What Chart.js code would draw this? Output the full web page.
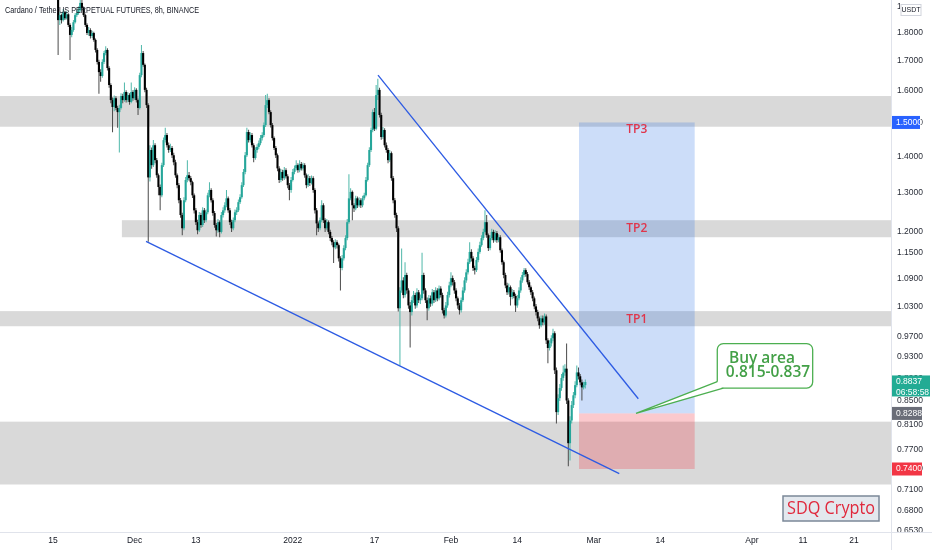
<!DOCTYPE html>
<html>
<head>
<meta charset="utf-8">
<script src="https://cdn.jsdelivr.net/npm/chart.js@4.4.1/dist/chart.umd.min.js"></script>
<style>
html,body{margin:0;padding:0;background:#fff;overflow:hidden}
#wrap{width:932px;height:550px;position:relative}
canvas{display:block}
</style>
</head>
<body>
<div id="wrap"><canvas id="c" width="932" height="550"></canvas></div>
<script>
// ---------------- DATA ----------------
// 8h candles, x measured in days after 15 Nov 2021
const firstCandleDay = 1 / 3;
const candleStepDays = 1 / 3;
const firstOpen = 1.990;

const closes = [
1.980,1.960,1.848,1.867,1.848,1.878,1.855,1.870,1.830,1.793,
1.811,1.840,1.867,1.875,1.886,1.914,1.894,1.867,1.830,1.800,
1.811,1.789,1.800,1.775,1.739,1.697,1.662,1.649,1.697,1.728,
1.739,1.676,1.619,1.570,1.548,1.576,1.545,1.532,1.545,1.583,
1.570,1.596,1.570,1.586,1.564,1.596,1.576,1.603,1.570,1.545,
1.652,1.728,1.687,1.603,1.554,1.341,1.418,1.375,1.432,1.389,
1.347,1.315,1.293,1.375,1.447,1.462,1.432,1.418,1.424,1.403,
1.383,1.347,1.320,1.280,1.242,1.209,1.280,1.334,1.347,1.339,
1.328,1.293,1.254,1.224,1.204,1.242,1.217,1.254,1.229,1.249,
1.293,1.307,1.280,1.247,1.217,1.204,1.224,1.200,1.242,1.254,
1.267,1.285,1.254,1.224,1.209,1.229,1.249,1.254,1.275,1.288,
1.320,1.356,1.403,1.471,1.447,1.462,1.432,1.395,1.418,1.427,
1.438,1.453,1.462,1.492,1.554,1.570,1.532,1.492,1.453,1.424,
1.403,1.366,1.334,1.356,1.339,1.361,1.344,1.320,1.307,1.334,
1.356,1.366,1.375,1.361,1.378,1.366,1.375,1.347,1.320,1.339,
1.326,1.339,1.307,1.254,1.221,1.209,1.229,1.267,1.229,1.209,
1.224,1.200,1.185,1.175,1.163,1.175,1.168,1.137,1.115,1.137,
1.161,1.185,1.224,1.285,1.302,1.267,1.259,1.285,1.267,1.280,
1.267,1.285,1.293,1.334,1.375,1.418,1.477,1.532,1.481,1.586,
1.603,1.523,1.456,1.477,1.432,1.418,1.389,1.409,1.339,1.280,
1.242,1.209,1.027,1.065,1.087,1.055,1.099,1.065,1.033,1.019,
1.044,1.055,1.033,1.061,1.044,1.048,1.099,1.065,1.044,1.027,
1.048,1.037,1.061,1.044,1.065,1.048,1.069,1.055,1.023,1.012,
1.033,1.055,1.076,1.092,1.083,1.065,1.048,1.033,1.023,1.044,
1.065,1.087,1.105,1.128,1.152,1.137,1.115,1.110,1.133,1.152,
1.168,1.185,1.200,1.224,1.192,1.161,1.185,1.200,1.180,1.197,
1.180,1.187,1.156,1.128,1.099,1.076,1.061,1.072,1.051,1.061,
1.053,1.033,1.048,1.065,1.087,1.099,1.110,1.101,1.083,1.072,
1.061,1.048,1.031,1.019,1.006,0.992,1.006,0.998,1.010,0.962,
0.947,0.956,0.966,0.976,0.905,0.831,0.855,0.873,0.891,0.901,
0.908,0.851,0.780,0.817,0.843,0.860,0.878,0.901,0.894,0.883,
0.874,0.878,0.8837
];

const highs = [
2.000,1.985,1.968,1.880,1.872,1.890,1.884,1.882,1.874,1.836,
1.822,1.848,1.874,1.890,1.900,1.945,1.925,1.900,1.872,1.836,
1.822,1.818,1.808,1.805,1.780,1.745,1.705,1.672,1.706,1.735,
1.752,1.745,1.682,1.625,1.578,1.585,1.582,1.552,1.555,1.592,
1.590,1.627,1.602,1.595,1.592,1.627,1.602,1.612,1.608,1.575,
1.660,1.757,1.735,1.692,1.610,1.560,1.432,1.425,1.447,1.438,
1.395,1.352,1.322,1.382,1.455,1.484,1.468,1.440,1.436,1.430,
1.410,1.390,1.352,1.326,1.286,1.248,1.288,1.342,1.389,1.356,
1.345,1.332,1.298,1.260,1.230,1.250,1.248,1.262,1.260,1.256,
1.300,1.328,1.312,1.285,1.252,1.222,1.232,1.228,1.250,1.262,
1.275,1.307,1.290,1.260,1.230,1.236,1.256,1.262,1.282,1.296,
1.328,1.364,1.412,1.484,1.478,1.470,1.468,1.438,1.426,1.435,
1.446,1.462,1.470,1.500,1.586,1.590,1.576,1.538,1.498,1.458,
1.430,1.408,1.372,1.364,1.362,1.370,1.366,1.350,1.326,1.342,
1.364,1.374,1.389,1.380,1.389,1.384,1.382,1.380,1.352,1.350,
1.345,1.346,1.344,1.312,1.260,1.226,1.236,1.280,1.272,1.234,
1.232,1.228,1.205,1.190,1.180,1.182,1.180,1.172,1.142,1.145,
1.168,1.192,1.232,1.350,1.312,1.306,1.272,1.292,1.290,1.288,
1.285,1.292,1.300,1.342,1.382,1.426,1.485,1.540,1.545,1.619,
1.640,1.610,1.530,1.486,1.482,1.440,1.424,1.418,1.414,1.345,
1.286,1.248,1.214,1.072,1.160,1.094,1.128,1.104,1.070,1.040,
1.052,1.064,1.060,1.070,1.066,1.056,1.150,1.104,1.070,1.050,
1.055,1.054,1.068,1.066,1.072,1.070,1.076,1.074,1.060,1.028,
1.040,1.062,1.084,1.105,1.098,1.088,1.070,1.052,1.038,1.050,
1.072,1.094,1.112,1.136,1.175,1.158,1.142,1.120,1.140,1.160,
1.176,1.192,1.208,1.254,1.242,1.196,1.192,1.208,1.205,1.204,
1.202,1.194,1.192,1.160,1.132,1.104,1.082,1.080,1.076,1.068,
1.066,1.058,1.055,1.072,1.094,1.106,1.115,1.114,1.106,1.088,
1.076,1.066,1.052,1.036,1.024,1.010,1.012,1.012,1.016,1.014,
0.966,0.962,0.972,0.985,0.980,0.910,0.862,0.880,0.898,0.914,
0.916,0.956,0.855,0.824,0.850,0.866,0.885,0.914,0.910,0.898,
0.888,0.884,0.888
];

const lows = [
1.962,1.945,1.721,1.830,1.835,1.843,1.848,1.850,1.822,1.704,
1.785,1.805,1.835,1.860,1.868,1.880,1.885,1.860,1.822,1.793,
1.790,1.780,1.782,1.768,1.730,1.688,1.590,1.630,1.643,1.690,
1.720,1.668,1.610,1.560,1.470,1.535,1.538,1.484,1.411,1.540,
1.560,1.565,1.562,1.563,1.555,1.560,1.568,1.570,1.562,1.523,
1.540,1.645,1.680,1.595,1.545,1.176,1.330,1.365,1.370,1.380,
1.340,1.293,1.254,1.288,1.370,1.440,1.425,1.410,1.412,1.395,
1.375,1.340,1.312,1.272,1.235,1.192,1.204,1.275,1.328,1.332,
1.320,1.286,1.246,1.217,1.194,1.200,1.210,1.212,1.222,1.224,
1.244,1.288,1.274,1.240,1.210,1.189,1.198,1.187,1.196,1.236,
1.248,1.262,1.248,1.217,1.200,1.204,1.224,1.242,1.250,1.270,
1.284,1.315,1.350,1.398,1.440,1.440,1.425,1.383,1.390,1.410,
1.420,1.432,1.446,1.456,1.486,1.545,1.525,1.485,1.446,1.418,
1.395,1.358,1.326,1.328,1.332,1.334,1.338,1.312,1.280,1.300,
1.330,1.350,1.360,1.354,1.355,1.360,1.360,1.340,1.312,1.315,
1.318,1.322,1.300,1.246,1.192,1.200,1.204,1.224,1.222,1.200,
1.204,1.194,1.178,1.168,1.126,1.158,1.160,1.130,1.065,1.110,
1.132,1.156,1.180,1.220,1.280,1.229,1.250,1.254,1.260,1.262,
1.260,1.262,1.280,1.290,1.330,1.370,1.412,1.470,1.474,1.476,
1.570,1.515,1.448,1.450,1.425,1.410,1.380,1.384,1.332,1.272,
1.235,1.200,1.020,0.914,1.060,1.048,1.050,1.058,1.026,0.948,
1.012,1.038,1.026,1.028,1.038,1.036,1.044,1.058,1.038,1.002,
1.022,1.030,1.032,1.038,1.040,1.042,1.044,1.050,1.016,1.006,
1.008,1.028,1.050,1.072,1.076,1.058,1.042,1.026,1.014,1.018,
1.040,1.060,1.082,1.100,1.124,1.130,1.108,1.100,1.106,1.128,
1.148,1.164,1.180,1.196,1.186,1.154,1.156,1.180,1.174,1.176,
1.174,1.175,1.150,1.122,1.092,1.070,1.055,1.056,1.033,1.046,
1.048,1.019,1.028,1.044,1.060,1.082,1.094,1.095,1.078,1.066,
1.055,1.042,1.025,1.012,1.000,0.985,0.988,0.992,0.993,0.955,
0.918,0.942,0.950,0.960,0.898,0.812,0.826,0.850,0.868,0.886,
0.895,0.845,0.744,0.753,0.812,0.838,0.855,0.874,0.888,0.878,
0.851,0.870,0.872
];

// axis ticks
const xTickDays   = [0, 16, 28, 47, 63, 78, 91, 106, 119, 137, 147, 157];
const xTickLabels = ['15','Dec','13','2022','17','Feb','14','Mar','14','Apr','11','21'];
const yTickValues = [1.9,1.8,1.7,1.6,1.5,1.4,1.3,1.2,1.15,1.09,1.03,0.97,0.93,0.89,0.85,0.81,0.77,0.74,0.71,0.68,0.653];

// visible range
const xMin = -10.39, xMax = 164.25;
const yMin = 0.6508, yMax = 1.9254;

// support / resistance zones
const zoneTops      = [1.583, 1.229, 1.021, 0.815];
const zoneBottoms   = [1.487, 1.187, 0.990, 0.717];
const zoneStartDays = [xMin, 13.5, xMin, xMin];

// wedge trend lines
const upperTrend = [{x: 63.70, y: 1.652}, {x: 114.72, y: 0.854}];
const lowerTrend = [{x: 18.23, y: 1.177}, {x: 110.99, y: 0.733}];

// long position
const positionStartDay = 103.1, positionEndDay = 125.77;
const targetPrice = 1.5, entryPrice = 0.8288, stopPrice = 0.74;
const tpLabels = ['TP3', 'TP2', 'TP1'];
const tpPrices = [1.477, 1.207, 1.004];

// callout "Buy area"
const calloutText = ['Buy area', '0.815-0.837'];
const calloutDays = [130.2, 148.9];
const calloutPrices = [0.9556, 0.8728];
const calloutTipDay = 114.27;

const titleText = 'Cardano / TetherUS PERPETUAL FUTURES, 8h, BINANCE';
const countdownText = '06:58:58';
const brandText = 'SDQ Crypto';

// ---------------- BUILD ----------------
const opens = closes.map((c, i) => i === 0 ? firstOpen : closes[i - 1]);
const days = closes.map((c, i) => firstCandleDay + i * candleStepDays);
const isUp = closes.map((c, i) => c >= opens[i]);
const bodyData = closes.map((c, i) => ({x: days[i], y: [opens[i], c]}));
const wickData = closes.map((c, i) => ({x: days[i], y: [lows[i], highs[i]]}));
const lastClose = closes[closes.length - 1];

const FONT = '"Liberation Sans", Arial, sans-serif';
const FONT2 = '"Open Sans", "Liberation Sans", sans-serif';

function roundRect(ctx, x, y, w, h, r) {
  ctx.beginPath();
  ctx.moveTo(x + r, y);
  ctx.lineTo(x + w - r, y);
  ctx.arcTo(x + w, y, x + w, y + r, r);
  ctx.lineTo(x + w, y + h - r);
  ctx.arcTo(x + w, y + h, x + w - r, y + h, r);
  ctx.lineTo(x + r, y + h);
  ctx.arcTo(x, y + h, x, y + h - r, r);
  ctx.lineTo(x, y + r);
  ctx.arcTo(x, y, x + r, y, r);
  ctx.closePath();
}

const overlay = {
  id: 'overlay',
  beforeDatasetsDraw(chart) {
    const {ctx, chartArea: a, scales: {x, y}} = chart;
    ctx.save();
    ctx.beginPath();
    ctx.rect(a.left, a.top, a.right - a.left, a.bottom - a.top);
    ctx.clip();
    ctx.fillStyle = '#d9d9d9';
    zoneTops.forEach((t, i) => {
      const x0 = Math.max(a.left, x.getPixelForValue(zoneStartDays[i]));
      const y0 = y.getPixelForValue(t), y1 = y.getPixelForValue(zoneBottoms[i]);
      ctx.fillRect(x0, y0, a.right - x0, y1 - y0);
    });
    const bx0 = x.getPixelForValue(positionStartDay), bx1 = x.getPixelForValue(positionEndDay);
    const yT = y.getPixelForValue(targetPrice), yE = y.getPixelForValue(entryPrice), yS = y.getPixelForValue(stopPrice);
    ctx.fillStyle = 'rgba(50,120,230,0.25)';
    ctx.fillRect(bx0, yT, bx1 - bx0, yE - yT);
    ctx.fillStyle = 'rgba(242,54,69,0.27)';
    ctx.fillRect(bx0, yE, bx1 - bx0, yS - yE);
    ctx.restore();
  },
  afterDatasetsDraw(chart) {
    const {ctx, chartArea: a, scales: {x, y}} = chart;
    ctx.save();
    // TP labels
    const cx = (x.getPixelForValue(positionStartDay) + x.getPixelForValue(positionEndDay)) / 2;
    ctx.fillStyle = '#e0354b';
    ctx.font = '600 12px ' + FONT2;
    ctx.textAlign = 'center';
    ctx.textBaseline = 'middle';
    tpLabels.forEach((t, i) => ctx.fillText(t, cx, y.getPixelForValue(tpPrices[i])));

    // callout
    const bx0 = x.getPixelForValue(calloutDays[0]), bx1 = x.getPixelForValue(calloutDays[1]);
    const by0 = y.getPixelForValue(calloutPrices[0]), by1 = y.getPixelForValue(calloutPrices[1]);
    const tipX = x.getPixelForValue(calloutTipDay), tipY = y.getPixelForValue(entryPrice);
    ctx.lineWidth = 1.3;
    ctx.strokeStyle = '#4caf50';
    ctx.fillStyle = '#ffffff';
    roundRect(ctx, bx0, by0, bx1 - bx0, by1 - by0, 6);
    ctx.fill();
    ctx.stroke();
    const p1 = {x: bx0, y: by1 - 6.5}, p2 = {x: bx0 + 6, y: by1};
    ctx.beginPath();
    ctx.moveTo(p1.x + 0.8, p1.y);
    ctx.lineTo(tipX, tipY);
    ctx.lineTo(p2.x, p2.y - 0.8);
    ctx.lineTo(bx0 + 3, by1 - 3);
    ctx.closePath();
    ctx.fill();
    ctx.beginPath();
    ctx.moveTo(p1.x, p1.y);
    ctx.lineTo(tipX, tipY);
    ctx.lineTo(p2.x, p2.y);
    ctx.stroke();
    ctx.fillStyle = '#43a047';
    ctx.font = '600 15.5px ' + FONT2;
    const mx = (bx0 + bx1) / 2;
    ctx.fillText(calloutText[0], mx - 3, by0 + 14.5);
    ctx.fillText(calloutText[1], mx + 3, by0 + 29, 90);

    // brand box
    const sx0 = 783, sy0 = 496, sw = 96, sh = 25;
    ctx.fillStyle = '#e3e8ee';
    ctx.fillRect(sx0, sy0, sw, sh);
    ctx.strokeStyle = '#7b8898';
    ctx.lineWidth = 1.5;
    ctx.strokeRect(sx0, sy0, sw, sh);
    ctx.fillStyle = '#e0283c';
    ctx.font = '18px ' + FONT2;
    ctx.fillText(brandText, sx0 + sw / 2, sy0 + sh / 2 + 0.5, 88);

    // title
    ctx.fillStyle = '#131722';
    ctx.font = '9px ' + FONT;
    ctx.textAlign = 'left';
    ctx.fillText(titleText, 5, 11, 194);
    ctx.restore();
  },
  afterDraw(chart) {
    const {ctx, chartArea: a, scales: {y}} = chart;
    ctx.save();
    ctx.strokeStyle = '#e0e3eb';
    ctx.lineWidth = 1;
    ctx.beginPath();
    ctx.moveTo(0, a.bottom + 0.5); ctx.lineTo(932, a.bottom + 0.5);
    ctx.moveTo(a.right + 0.5, 0); ctx.lineTo(a.right + 0.5, 550);
    ctx.stroke();

    const labels = [
      {price: targetPrice, lines: [targetPrice.toFixed(4)], bg: '#2962ff', w: 28},
      {price: lastClose, lines: [lastClose.toFixed(4), countdownText], bg: '#22ab94', w: 38},
      {price: entryPrice, lines: [entryPrice.toFixed(4)], bg: '#6a6d78', w: 30},
      {price: stopPrice, lines: [stopPrice.toFixed(4)], bg: '#f23645', w: 30},
    ];
    ctx.font = '8.5px ' + FONT;
    ctx.textAlign = 'left';
    ctx.textBaseline = 'middle';
    labels.forEach(l => {
      const py = y.getPixelForValue(l.price);
      const h = l.lines.length === 1 ? 13 : 21;
      const top = py - 6.5;
      ctx.fillStyle = l.bg;
      ctx.fillRect(a.right + 1, top, l.w, h);
      ctx.fillStyle = '#ffffff';
      l.lines.forEach((t, i) => ctx.fillText(t, a.right + 5, py + i * 10.5));
    });

    // currency box over the top tick
    ctx.fillStyle = '#ffffff';
    ctx.fillRect(900, 0, 32, 18);
    ctx.fillRect(901, 4.5, 20, 11);
    ctx.strokeStyle = '#d1d4dc';
    ctx.strokeRect(901, 4.5, 20, 11);
    ctx.fillStyle = '#131722';
    ctx.font = '7px ' + FONT;
    ctx.textAlign = 'center';
    ctx.fillText('USDT', 911, 10.5);
    ctx.restore();
  }
};

new Chart(document.getElementById('c'), {
  type: 'bar',
  data: {
    datasets: [
      {type: 'line', data: upperTrend, borderColor: '#2d5be3', borderWidth: 1.3, pointRadius: 0, fill: false, order: 0},
      {type: 'line', data: lowerTrend, borderColor: '#2d5be3', borderWidth: 1.3, pointRadius: 0, fill: false, order: 0},
      {type: 'bar', data: bodyData, backgroundColor: isUp.map(u => u ? '#26a69a' : '#000000'),
       barThickness: 2.1, grouped: false, minBarLength: 1, borderWidth: 0, inflateAmount: 0, order: 1},
      {type: 'bar', data: wickData, backgroundColor: isUp.map(u => u ? '#4fb8aa' : '#4a4a4a'),
       barThickness: 1, grouped: false, borderWidth: 0, inflateAmount: 0, order: 2}
    ]
  },
  options: {
    responsive: false,
    animation: false,
    events: [],
    layout: {padding: 0},
    plugins: {legend: {display: false}, tooltip: {enabled: false}},
    scales: {
      x: {
        type: 'linear', min: xMin, max: xMax, offset: false,
        grid: {display: false, drawTicks: false}, border: {display: false},
        afterBuildTicks: s => { s.ticks = xTickDays.map(v => ({value: v})); },
        afterFit: s => { s.height = 18; s.paddingLeft = 0; s.paddingRight = 0; },
        ticks: {
          autoSkip: false, maxRotation: 0, minRotation: 0, padding: 4,
          color: '#131722', font: {size: 8.5, family: FONT},
          callback: v => { const i = xTickDays.indexOf(v); return i >= 0 ? xTickLabels[i] : ''; }
        }
      },
      y: {
        type: 'logarithmic', position: 'right', min: yMin, max: yMax,
        grid: {display: false, drawTicks: false}, border: {display: false},
        afterBuildTicks: s => { s.ticks = yTickValues.map(v => ({value: v})); },
        afterFit: s => { s.width = 41; s.paddingTop = 0; s.paddingBottom = 0; },
        ticks: {
          autoSkip: false, padding: 6, color: '#2a2e39', font: {size: 8.5, family: FONT},
          callback: v => Number(v).toFixed(4)
        }
      }
    }
  },
  plugins: [overlay]
});
</script>
</body>
</html>
